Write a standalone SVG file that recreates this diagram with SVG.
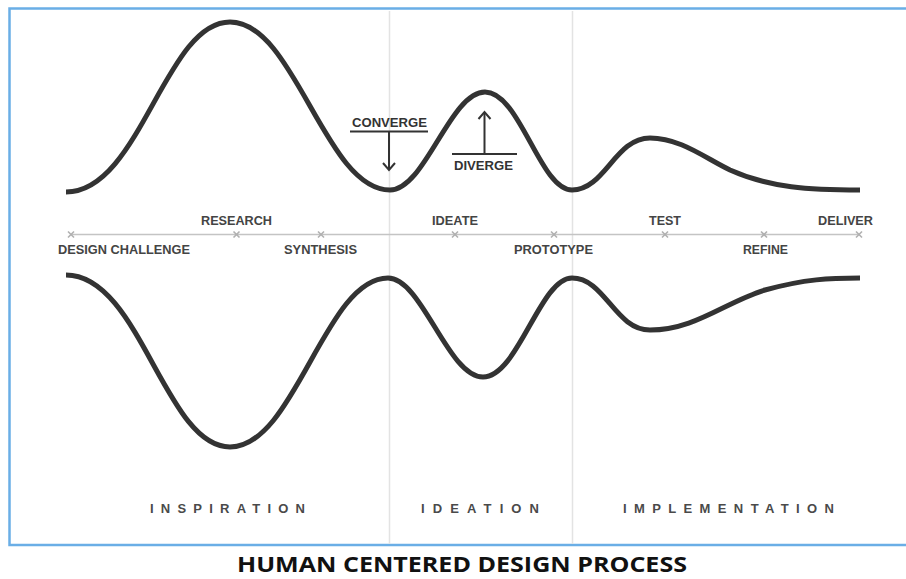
<svg xmlns="http://www.w3.org/2000/svg" width="906" height="579" viewBox="0 0 906 579">
  <style>
    .frame { fill: #ffffff; stroke: #6aaee6; stroke-width: 2.5; }
    .divider { stroke: #e3e3e3; stroke-width: 1.5; }
    .wave { fill: none; stroke: #333333; stroke-width: 5; stroke-linecap: butt; stroke-linejoin: round; }
    .axis { stroke: #c4c4c4; stroke-width: 1.5; }
    .tick { stroke: #b0b0b0; stroke-width: 1.6; }
    .step { font-family: "Liberation Sans", Arial, sans-serif; font-weight: bold; font-size: 12px; fill: #444444; }
    .cue { font-family: "Liberation Sans", Arial, sans-serif; font-weight: bold; font-size: 12px; fill: #333333; }
    .cue-line { stroke: #333333; stroke-width: 2; fill: none; }
    .phase { font-family: "Liberation Sans", Arial, sans-serif; font-weight: bold; font-size: 13px; fill: #4a4a4a; }
    .title { font-family: "Open Sans", "Noto Sans", sans-serif; font-weight: bold; font-size: 21px; fill: #111111; }
  </style>
  <defs>
    <g id="x-mark">
      <line class="tick" x1="-3" y1="-3" x2="3" y2="3"/>
      <line class="tick" x1="-3" y1="3" x2="3" y2="-3"/>
    </g>
  </defs>

  <rect width="906" height="579" fill="#ffffff"/>
  <rect class="frame" x="9.5" y="8.5" width="910" height="536.5"/>

  <!-- phase dividers -->
  <g id="dividers">
    <line class="divider" x1="389.5" y1="11" x2="389.5" y2="544"/>
    <line class="divider" x1="572.5" y1="11" x2="572.5" y2="544"/>
  </g>

  <!-- upper and lower envelopes -->
  <g id="waves">
    <path class="wave" d="M66 192 C140 192 165 22 230 22 C295 22 325 190 390 190 C425 190 450 92 485 92 C520 92 540 190 572 190 C605 190 615 138 650 138 C680 138 705 158 730 170 C770 188 810 190 860 190"/>
    <path class="wave" d="M66 275 C140 275 165 447 230 447 C295 447 325 278 388 278 C422 278 448 377 483 377 C518 377 540 278 572 278 C605 278 615 330 650 330 C695 330 725 302 765 290 C805 279 830 278 860 278"/>
  </g>

  <!-- process timeline -->
  <g id="timeline">
    <line class="axis" x1="71" y1="234.5" x2="860" y2="234.5"/>
    <use href="#x-mark" x="71" y="234.5"/>
    <use href="#x-mark" x="236.5" y="234.5"/>
    <use href="#x-mark" x="321" y="234.5"/>
    <use href="#x-mark" x="455" y="234.5"/>
    <use href="#x-mark" x="554" y="234.5"/>
    <use href="#x-mark" x="665" y="234.5"/>
    <use href="#x-mark" x="764" y="234.5"/>
    <use href="#x-mark" x="859" y="234.5"/>
  </g>

  <g id="step-design-challenge"><text class="step" x="58" y="254" textLength="132" lengthAdjust="spacingAndGlyphs">DESIGN CHALLENGE</text></g>
  <g id="step-research"><text class="step" x="201" y="225" textLength="71" lengthAdjust="spacingAndGlyphs">RESEARCH</text></g>
  <g id="step-synthesis"><text class="step" x="284" y="254" textLength="73" lengthAdjust="spacingAndGlyphs">SYNTHESIS</text></g>
  <g id="step-ideate"><text class="step" x="432" y="225" textLength="46" lengthAdjust="spacingAndGlyphs">IDEATE</text></g>
  <g id="step-prototype"><text class="step" x="514" y="254" textLength="79" lengthAdjust="spacingAndGlyphs">PROTOTYPE</text></g>
  <g id="step-test"><text class="step" x="649" y="225" textLength="32" lengthAdjust="spacingAndGlyphs">TEST</text></g>
  <g id="step-refine"><text class="step" x="743" y="254" textLength="45" lengthAdjust="spacingAndGlyphs">REFINE</text></g>
  <g id="step-deliver"><text class="step" x="818" y="225" textLength="55" lengthAdjust="spacingAndGlyphs">DELIVER</text></g>

  <!-- converge / diverge cues -->
  <g id="cue-converge">
    <text class="cue" x="352" y="127" textLength="75" lengthAdjust="spacingAndGlyphs">CONVERGE</text>
    <line class="cue-line" x1="350" y1="131.5" x2="428" y2="131.5"/>
    <line class="cue-line" x1="389" y1="132" x2="389" y2="170"/>
    <polyline class="cue-line" points="383,163 389,170 395,163"/>
  </g>
  <g id="cue-diverge">
    <line class="cue-line" x1="452" y1="154" x2="517" y2="154"/>
    <line class="cue-line" x1="484.5" y1="154" x2="484.5" y2="112"/>
    <polyline class="cue-line" points="478.5,119 484.5,112 490.5,119"/>
    <text class="cue" x="454" y="169.5" textLength="59" lengthAdjust="spacingAndGlyphs">DIVERGE</text>
  </g>

  <!-- phase names -->
  <g id="phase-inspiration"><text class="phase" x="150" y="513" textLength="155" lengthAdjust="spacing">INSPIRATION</text></g>
  <g id="phase-ideation"><text class="phase" x="421" y="513" textLength="118" lengthAdjust="spacing">IDEATION</text></g>
  <g id="phase-implementation"><text class="phase" x="623" y="513" textLength="211" lengthAdjust="spacing">IMPLEMENTATION</text></g>

  <g id="title"><text class="title" x="237" y="572" textLength="450" lengthAdjust="spacingAndGlyphs">HUMAN CENTERED DESIGN PROCESS</text></g>
</svg>
